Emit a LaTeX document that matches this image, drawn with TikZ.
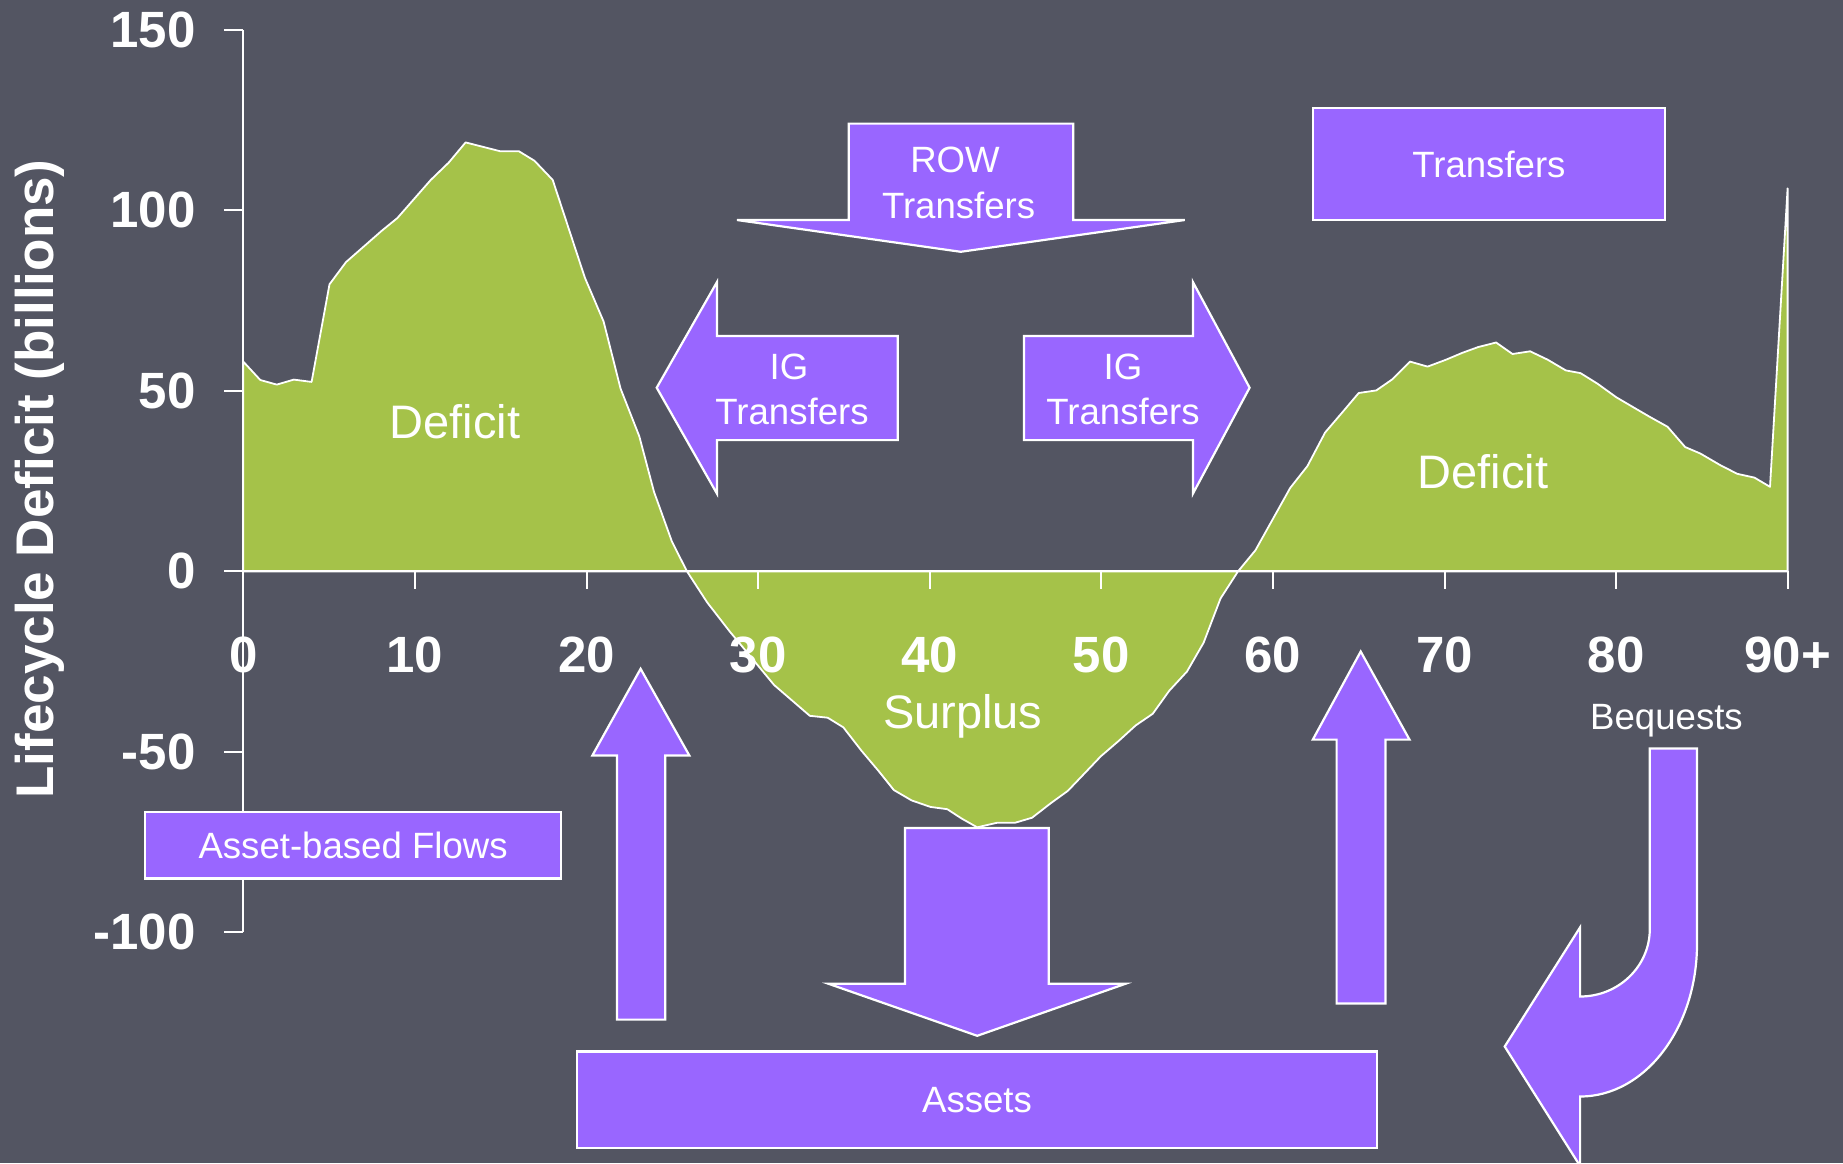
\documentclass[tikz,border=0pt]{standalone}
\usepackage{fontspec}
\setmainfont{Liberation Sans}
\definecolor{bg}{HTML}{535562}
\definecolor{pur}{HTML}{9966FF}
\definecolor{grn}{HTML}{A5C249}
\tikzset{
  purshape/.style={fill=pur, draw=white, line width=1.1pt, line join=miter},
  pbox/.style={fill=pur, draw=white, line width=1.1pt, text=white,
    font=\fontsize{18.3}{22}\selectfont, inner sep=0pt},
  lbl/.style={text=white, font=\fontsize{18.3}{22}\selectfont, inner sep=0pt, anchor=base},
  biglbl/.style={text=white, font=\fontsize{23.5}{28}\selectfont, inner sep=0pt, anchor=base},
  ylab/.style={text=white, font=\bfseries\fontsize{25.5}{30}\selectfont, inner sep=0pt, anchor=east},
  xlab/.style={text=white, font=\bfseries\fontsize{25.5}{30}\selectfont, inner sep=0pt, anchor=base},
  axisline/.style={draw=white, line width=1pt},
}
\begin{document}
\begin{tikzpicture}[x=0.5pt,y=-0.5pt]
\fill[bg] (0,0) rectangle (1843,1163);
\useasboundingbox (0,0) rectangle (1843,1163);

% lifecycle deficit curve
\filldraw[fill=grn, draw=white, line width=0.9pt, line join=round]
 (243.3,571.4) -- (243.3,361.6) -- (260.3,380) -- (276.8,384.6) -- (293.8,379.6) -- (311.6,381.9)
 -- (329.5,284.3) -- (346,262.1) -- (381.7,230.8) -- (397.3,218.1) -- (430.8,179.9) -- (448.7,162.6)
 -- (465.6,142.4) -- (500,151.2) -- (518.8,151.2) -- (534.4,160.7) -- (552.7,179.9) -- (584.8,277.5)
 -- (603.6,321.5) -- (620.5,388.4) -- (639.3,436.3) -- (654,491.8) -- (671.9,541.5) -- (687,571.4)
 -- (707.1,602.3) -- (729.5,631.2) -- (751.8,658.1) -- (774.1,685) -- (809.8,715.8) -- (827.7,717.7)
 -- (843.3,727.3) -- (861.2,750.4) -- (879,771.5) -- (893.8,790) -- (911.6,800.4) -- (930.4,806.9)
 -- (947.3,809.2) -- (961.6,818.5) -- (977.2,827.3) -- (997.3,822.7) -- (1015.2,822.7) -- (1032.1,817.7)
 -- (1050.9,803.1) -- (1067.9,790.8) -- (1084.4,773.5) -- (1100.9,756.2) -- (1118.8,740.8) -- (1135.7,725.4)
 -- (1152.7,713.8) -- (1169.2,690.8) -- (1187,671.5) -- (1203.6,642.7) -- (1220.5,598.5) -- (1238,571.4)
 -- (1255.4,550.3) -- (1290.2,487.9) -- (1307.4,466.1) -- (1325.1,432.5) -- (1341.5,413.3) -- (1358.7,393)
 -- (1376.3,390.4) -- (1391.9,379.6) -- (1410,361.6) -- (1427.6,366.6) -- (1446,359.7) -- (1462.4,352.8)
 -- (1478,347.1) -- (1496.1,342.5) -- (1512.5,354) -- (1530.1,351.3) -- (1547.7,359.7) -- (1565.8,370.4)
 -- (1580.5,373.1) -- (1597.8,383.9) -- (1616.2,397.2) -- (1633.9,407.6) -- (1650.2,417.1) -- (1667.5,426.7)
 -- (1685.1,447) -- (1700.3,453.5) -- (1720,465) -- (1737.2,473.8) -- (1754.4,477.6) -- (1770,486.8)
 -- (1787.6,188.3) -- (1787.6,571.4) -- cycle;

% axes
\draw[axisline] (243.3,29.9) -- (243.3,932.4);
\draw[axisline] (243.3,571.4) -- (1787.6,571.4);
\foreach \a in {0,10,...,90} \draw[axisline] ({243.3+17.16*\a},571.4) -- ++(0,18);
\foreach \v in {150,100,50,0,-50,-100} \draw[axisline] (243.3,{571.4-3.61*\v}) -- ++(-19,0);

\foreach \v [count=\i] in {150,100,50,0,-50,-100}
  \node[ylab] (ylab\i) at (196,{571.4-3.61*\v}) {\v};
\foreach \a [count=\i] in {0,10,...,80}
  \node[xlab] (xlab\i) at ({243.3+17.16*\a},672.5) {\a};
\node[xlab] (xlab10) at (1787.6,672.5) {90+};

\node[text=white, font=\bfseries\fontsize{26.5}{30}\selectfont, rotate=90, anchor=base, inner sep=0pt]
  (ytitle) at (53.6,479) {Lifecycle Deficit (billions)};

% ROW transfers arrow (down)
\draw[purshape] (848.7,123.6) -- (1073.2,123.6) -- (1073.2,220) -- (1184.8,220) -- (960.7,251.8)
  -- (737,220) -- (848.7,220) -- cycle;
% IG left arrow
\draw[purshape] (897.8,336) -- (717,336) -- (717,282) -- (656.7,387.7) -- (717,493.7)
  -- (717,440.1) -- (897.8,440.1) -- cycle;
% IG right arrow
\draw[purshape] (1024,336) -- (1192.9,336) -- (1192.9,282) -- (1249.6,387.7) -- (1192.9,493.7)
  -- (1192.9,440.1) -- (1024,440.1) -- cycle;
% up arrow left
\draw[purshape] (617,1019.6) -- (617,755.4) -- (592.4,755.4) -- (640.6,668.8) -- (689.3,755.4)
  -- (665.2,755.4) -- (665.2,1019.6) -- cycle;
% down arrow middle
\draw[purshape] (904.9,828) -- (1048.7,828) -- (1048.7,983.8) -- (1125.4,983.8) -- (977.2,1035.8)
  -- (828.6,983.8) -- (904.9,983.8) -- cycle;
% up arrow right
\draw[purshape] (1336.6,1003.5) -- (1336.6,739.6) -- (1312.8,739.6) -- (1360.7,651.5) -- (1409.5,739.6)
  -- (1385.4,739.6) -- (1385.4,1003.5) -- cycle;
% bequest bent arrow
\draw[purshape] (1649.8,748.5) -- (1697,748.5) -- (1697,944)
  .. controls (1697,1028.2) and (1644.7,1096.5) .. (1580.1,1096.5)
  -- (1580.1,1166) -- (1504.7,1046.5) -- (1580.1,927.3) -- (1580.1,996.5)
  .. controls (1618.6,996.5) and (1649.8,966.3) .. (1649.8,929) -- cycle;

% boxes
\node[pbox, minimum width=176.1pt, minimum height=55.85pt] (tbox) at (1488.9,164.2) {Transfers};
\node[pbox, minimum width=208.1pt, minimum height=33.25pt] (abox) at (353.1,845.25) {Asset-based Flows};
\node[pbox, minimum width=400.15pt, minimum height=48.1pt] (assets) at (977,1099.6) {Assets};

% labels
\node[lbl] (row1) at (955,172) {ROW};
\node[lbl] (row2) at (958.6,218) {Transfers};
\node[lbl] (igl1) at (789,379) {IG};
\node[lbl] (igl2) at (792,424) {Transfers};
\node[lbl] (igr1) at (1123,379) {IG};
\node[lbl] (igr2) at (1123,424) {Transfers};
\node[biglbl] (def1) at (455,438) {Deficit};
\node[biglbl] (def2) at (1483,488) {Deficit};
\node[biglbl] (surp) at (962.7,728) {Surplus};
\node[lbl] (beq) at (1666.5,729) {Bequests};
\end{tikzpicture}
\end{document}
